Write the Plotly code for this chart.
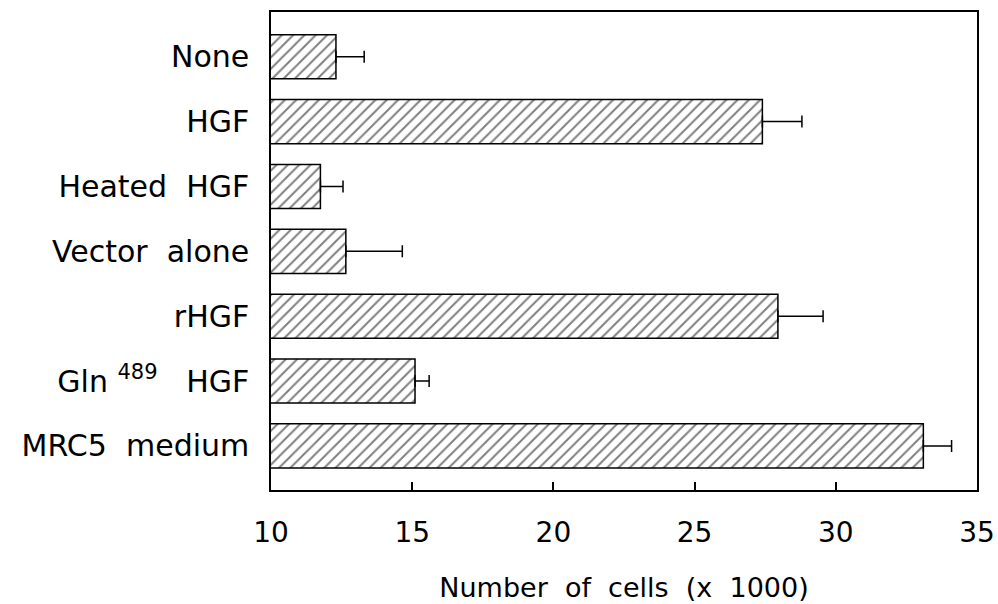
import plotly.graph_objects as go

categories = ["None", "HGF", "Heated\u00a0 HGF", "Vector\u00a0 alone", "rHGF",
              "Gln <sup>489</sup>\u00a0\u00a0 HGF", "MRC5\u00a0 medium"]
values = [12.3, 27.4, 11.75, 12.65, 27.95, 15.1, 33.1]
errors = [1.0, 1.4, 0.8, 2.0, 1.6, 0.5, 1.0]
x_ticks = [10, 15, 20, 25, 30, 35]

FONT = "DejaVu Sans"

fig = go.Figure()
fig.add_trace(go.Bar(
    y=categories, x=values, orientation="h",
    marker=dict(color="white", line=dict(color="black", width=1.5),
                pattern=dict(shape="/", fgcolor="black", bgcolor="white",
                             size=8, solidity=0.25)),
    error_x=dict(type="data", array=errors, arrayminus=[0] * len(errors),
                 symmetric=False, color="black", thickness=1.5, width=6),
    base=0,
))

fig.update_layout(
    width=998, height=604,
    margin=dict(l=271, r=21, t=12, b=114, autoexpand=False),
    plot_bgcolor="white", paper_bgcolor="white",
    showlegend=False, bargap=0.32,
    font=dict(family=FONT, size=28, color="black"),
)
fig.update_xaxes(
    range=[10, 35], tickvals=x_ticks, ticktext=[str(v) for v in x_ticks],
    ticks="inside", ticklen=8, tickwidth=1.5, tickcolor="black",
    showline=True, linecolor="black", linewidth=1.5, mirror=True,
    showgrid=False, zeroline=False, automargin=False,
    ticklabelstandoff=17,
    tickfont=dict(family=FONT, size=28),
    title=dict(text="Number\u00a0 of\u00a0 cells\u00a0 (x\u00a0 1000)",
               font=dict(family=FONT, size=27), standoff=30),
)
fig.update_yaxes(
    type="category", categoryorder="array", categoryarray=categories,
    range=[6.68, -0.69], automargin=False,
    showline=True, linecolor="black", linewidth=1.5, mirror=True,
    showgrid=False, ticks="", ticklabelstandoff=14,
    tickfont=dict(family=FONT, size=30),
)

fig.write_html("out.html")
